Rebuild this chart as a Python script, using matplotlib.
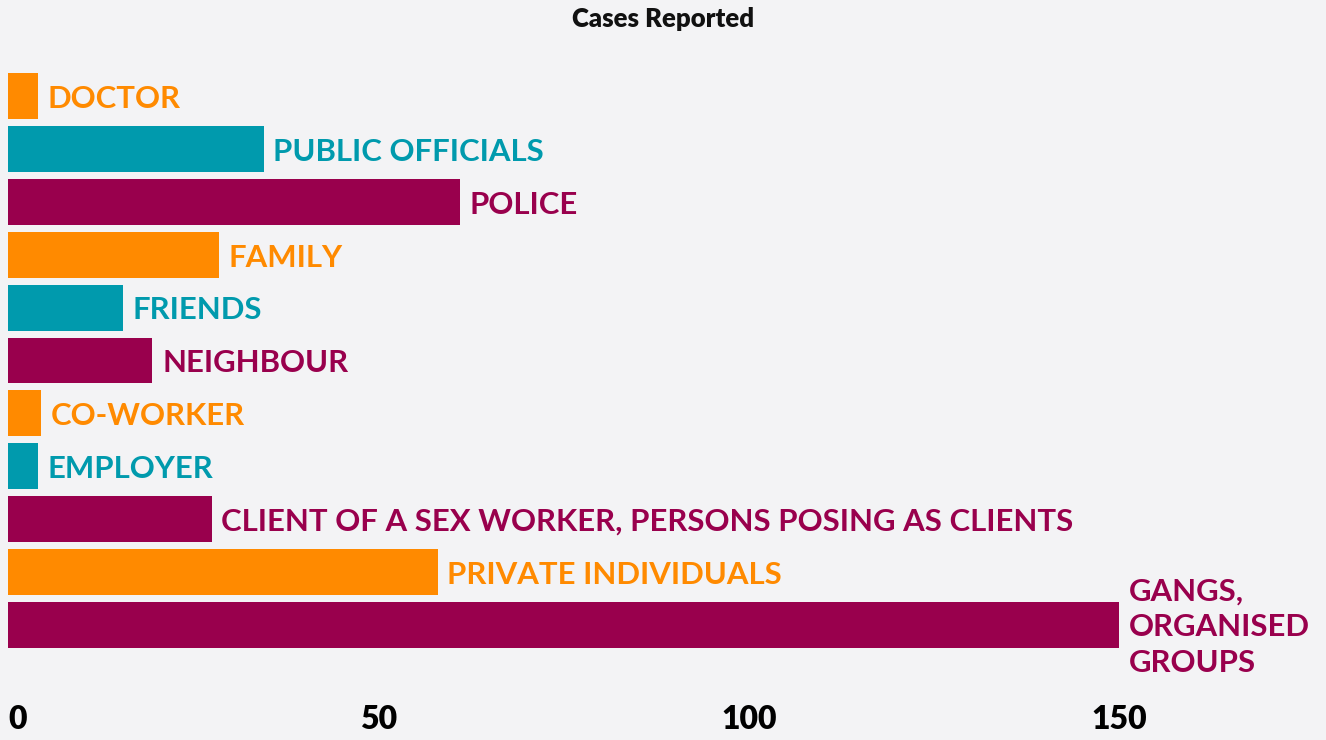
import matplotlib.pyplot as plt

# data
categories = ['DOCTOR', 'PUBLIC OFFICIALS', 'POLICE', 'FAMILY', 'FRIENDS',
              'NEIGHBOUR', 'CO-WORKER', 'EMPLOYER',
              'CLIENT OF A SEX WORKER, PERSONS POSING AS CLIENTS',
              'PRIVATE INDIVIDUALS', 'GANGS,\nORGANISED\nGROUPS']
cases = [4, 34.5, 61, 28.5, 15.5, 19.5, 4.5, 4, 27.5, 58, 150]
xticks = [0, 50, 100, 150]

orange = '#FF8A00'
teal = '#009AAD'
magenta = '#99004D'
bar_colors = [orange, teal, magenta, orange, teal, magenta,
              orange, teal, magenta, orange, magenta]
bg = '#F3F3F5'

plt.rcParams['font.family'] = ['Lato', 'DejaVu Sans']

W, H = 1326, 740
fig = plt.figure(figsize=(W / 100, H / 100), dpi=100, facecolor=bg)
# axes placed in pixel terms: left edge = value 0
ax = fig.add_axes([8 / W, (H - 651) / H, (W - 8) / W, 581 / H])
ax.set_facecolor(bg)

ypos = list(range(len(categories)))
ax.barh(ypos, cases, height=0.87, color=bar_colors)

ax.set_xlim(0, (W - 8) / 7.407)
ax.set_ylim(len(categories) - 0.5, -0.5)

# value labels next to each bar
for y, v, name, c in zip(ypos, cases, categories, bar_colors):
    ax.annotate(name, xy=(v, y), xytext=(7, -2), textcoords='offset points',
                ha='left', va='center', color=c, fontsize=22.4,
                fontweight='bold', linespacing=1.33)

ax.set_yticks([])
ax.set_xticks(xticks)
ax.set_xticklabels([str(t) for t in xticks], fontsize=23, fontweight='heavy',
                   color='black')
ax.get_xticklabels()[0].set_horizontalalignment('left')
ax.tick_params(axis='x', length=0, pad=39)
for s in ax.spines.values():
    s.set_visible(False)

fig.text(0.5, 1 - 19 / H, 'Cases Reported', ha='center', va='center',
         fontsize=18.5, fontweight='heavy', color='#111111')

fig.savefig('out.png', dpi=100, facecolor=bg)
